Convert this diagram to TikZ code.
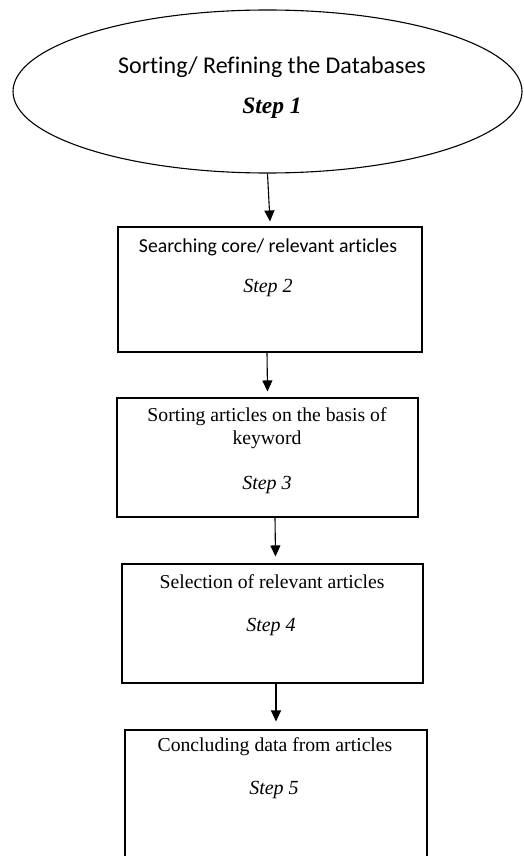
\documentclass[tikz,border=0pt]{standalone}
\usepackage{fontspec}
\setmainfont{Liberation Serif}
\newfontfamily\calibri[Ligatures=NoCommon]{Carlito}
\usetikzlibrary{arrows.meta, shapes.geometric}
\begin{document}
\begin{tikzpicture}[x=1pt, y=-1pt,
		stepbox/.style={draw, line width=1.1pt, inner sep=0pt},
		label serif/.style={font=\fontsize{19.7}{23}\selectfont, align=center},
		label sans/.style={font=\calibri\fontsize{19.8}{22}\selectfont},
		step label/.style={font=\fontsize{20}{22}\selectfont\itshape},
		arr/.style={line width=1.1pt, -{Triangle[length=11pt, width=10pt]}}]
			\useasboundingbox (0,0) rectangle (523,856);
			\clip (0,0) rectangle (523,856);
			% shapes
			\node[stepbox, ellipse, minimum width=509pt, minimum height=163pt] (e1) at (267.5, 91.5) {};
			\node[stepbox, minimum width=304pt, minimum height=125pt] (b2) at (270, 289.5) {};
			\node[stepbox, minimum width=301pt, minimum height=119pt] (b3) at (267.5, 457.5) {};
			\node[stepbox, minimum width=301pt, minimum height=119pt] (b4) at (272.5, 623.5) {};
			\node[stepbox, minimum width=302pt, minimum height=150pt] (b5) at (276, 805) {};
			% texts
			\node[label sans, font=\calibri\fontsize{24}{26}\selectfont] (t1) at (272, 67) {Sorting/ Refining the Databases};
			\node[step label, font=\fontsize{23.5}{25}\selectfont\bfseries\itshape] (s1) at (272, 108) {Step 1};
			\node[label sans] (t2) at (268, 247) {Searching core/ relevant articles};
			\node[step label] (s2) at (268, 288) {Step 2};
			\node[label serif] (t3) at (267, 428.5) {Sorting articles on the basis of\\keyword};
			\node[step label] (s3) at (267, 485) {Step 3};
			\node[label serif] (t4) at (272, 582) {Selection of relevant articles};
			\node[step label] (s4) at (271, 627) {Step 4};
			\node[label serif] (t5) at (275, 747) {Concluding data from articles};
			\node[step label] (s5) at (274, 790) {Step 5};
			% arrows
			\draw[arr] (e1.south) -- ([yshift=5pt]b2.north);
			\draw[arr] ([xshift=-3pt]b2.south) -- ([xshift=0pt, yshift=6pt]b3.north);
			\draw[arr] ([xshift=7.5pt]b3.south) -- ([xshift=3pt, yshift=7pt]b4.north);
			\draw[arr] ([xshift=3.5pt]b4.south) -- ([xshift=0pt, yshift=8pt]b5.north);
		\end{tikzpicture}
\end{document}
